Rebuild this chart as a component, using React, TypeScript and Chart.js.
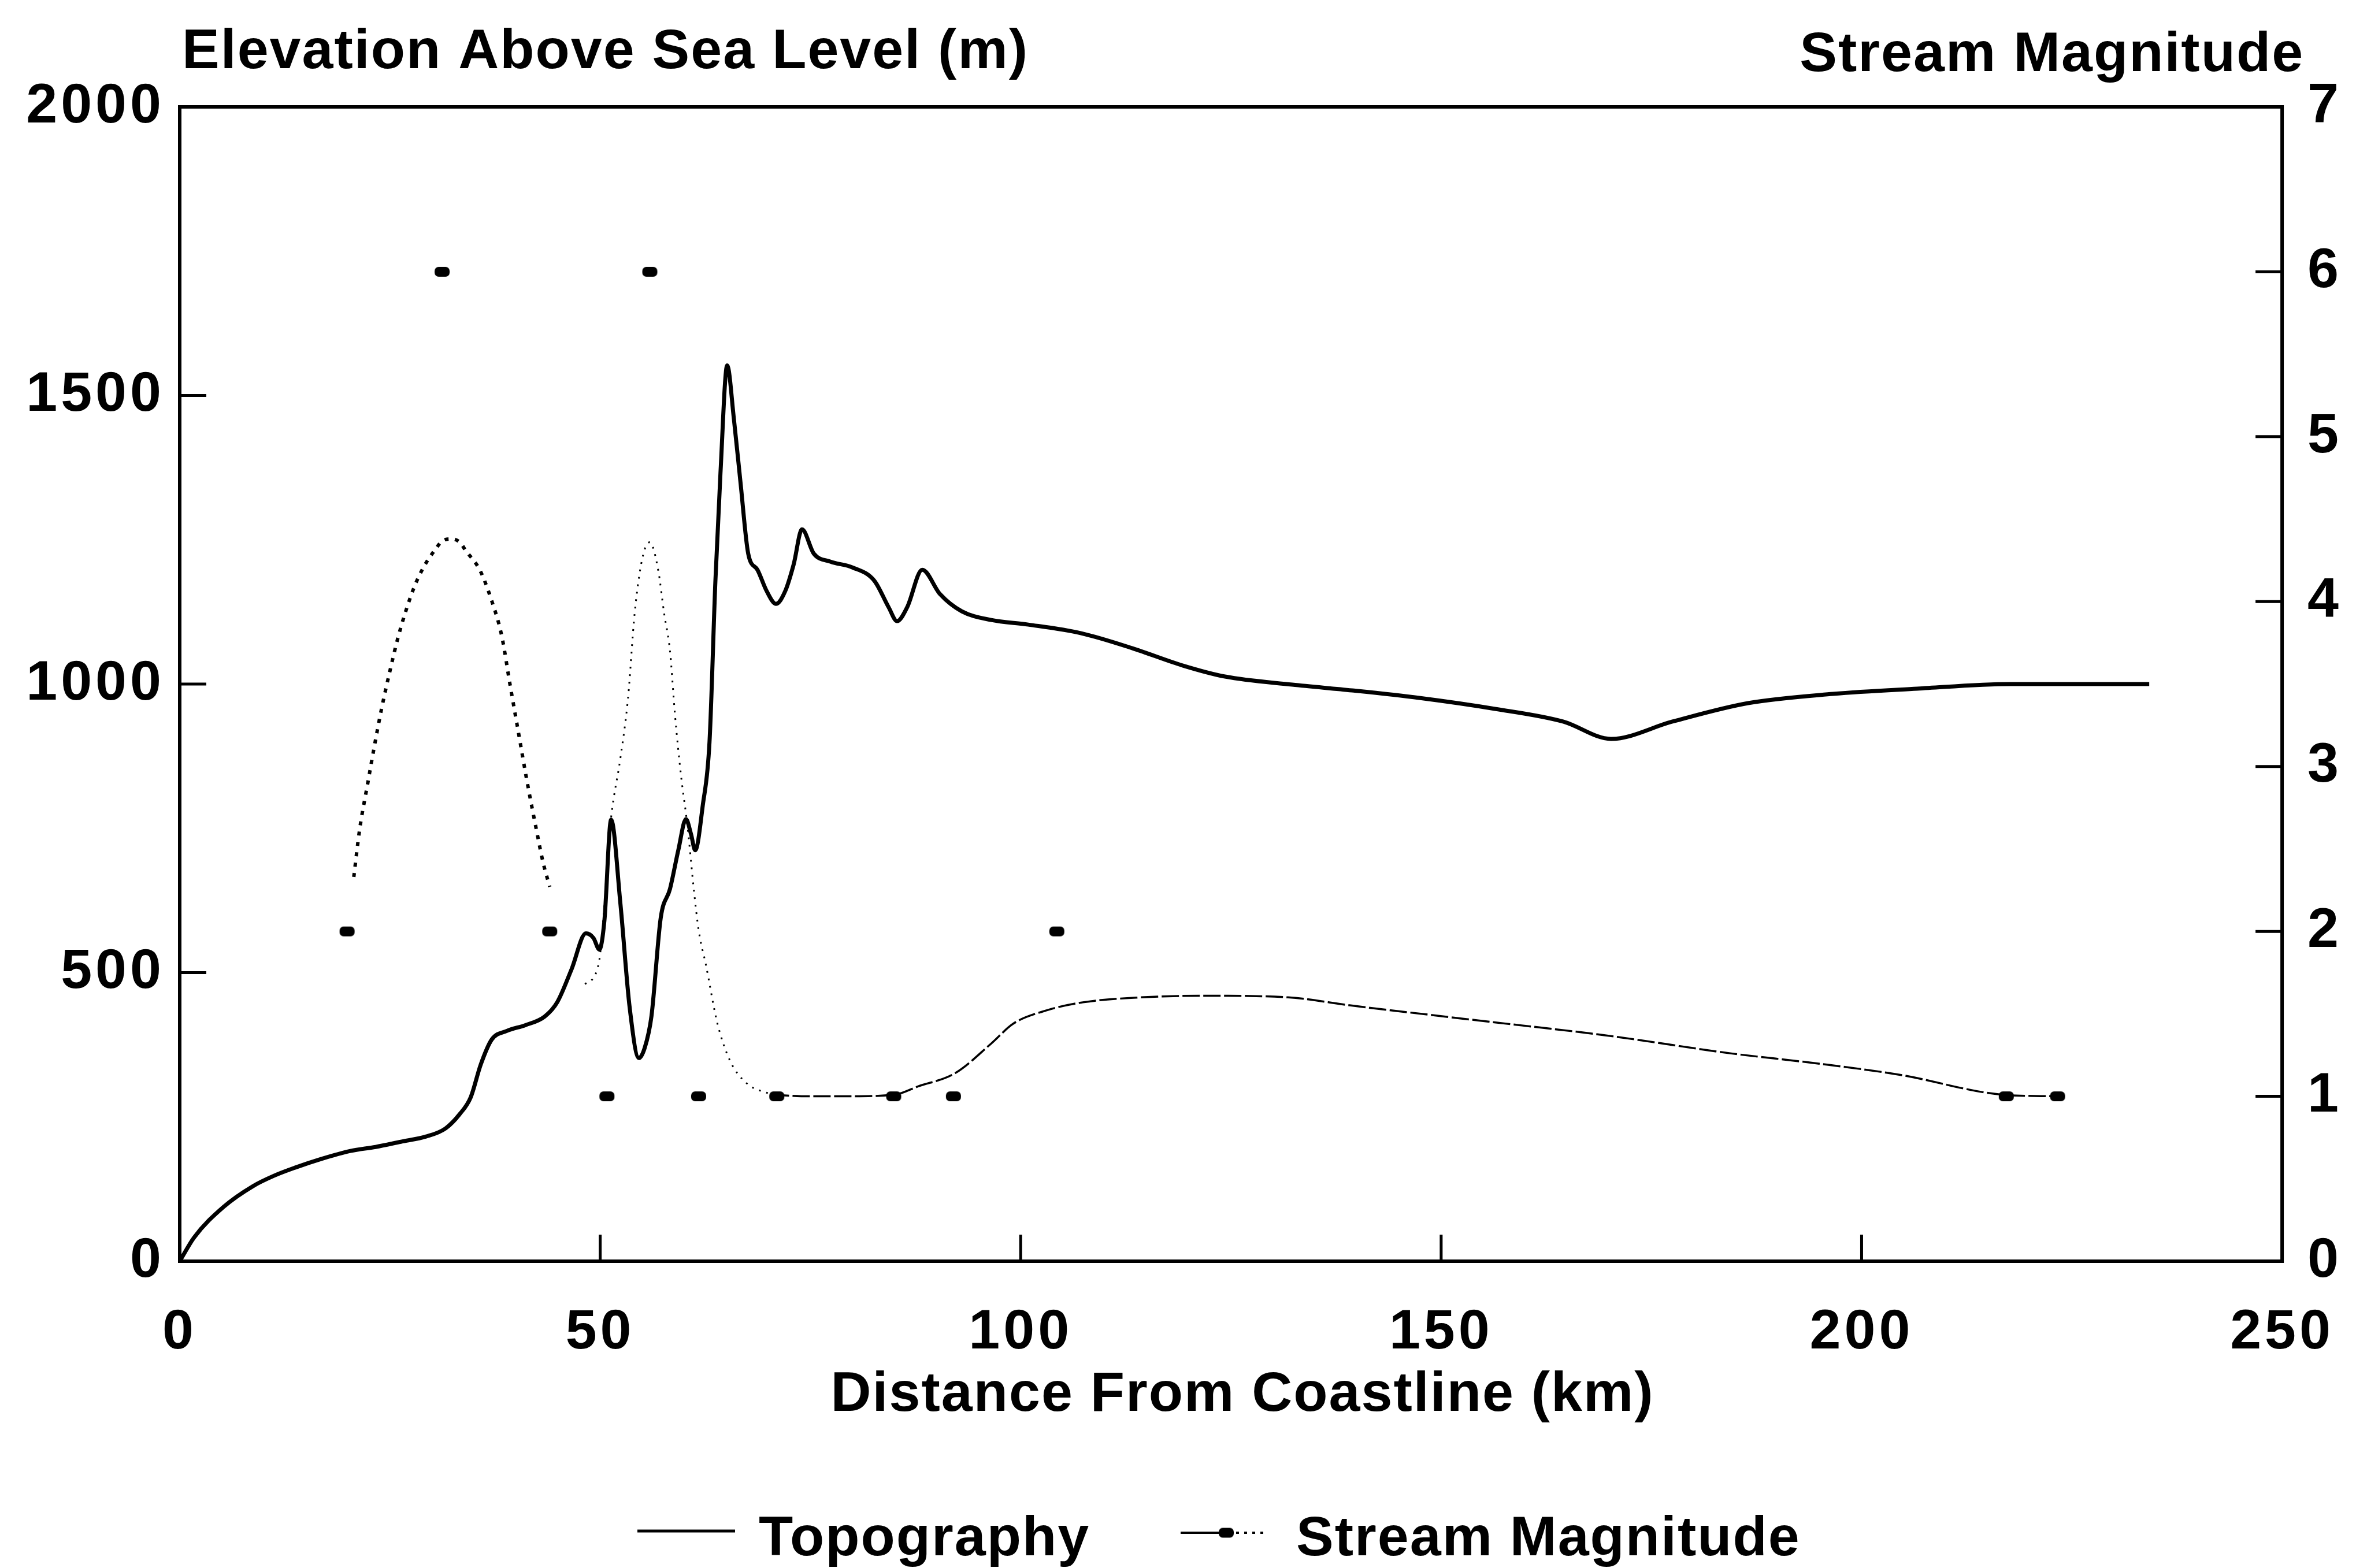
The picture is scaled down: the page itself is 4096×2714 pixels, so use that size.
import React, { useEffect, useRef } from 'react';
import { Chart, registerables } from 'chart.js';

Chart.register(...registerables);

// ---------------- data ----------------
const xTicks = [0, 50, 100, 150, 200, 250];
const elevationTicks = [0, 500, 1000, 1500, 2000];
const magnitudeTicks = [0, 1, 2, 3, 4, 5, 6, 7];

const xTitle = 'Distance From Coastline (km)';
const yTitle = 'Elevation Above Sea Level (m)';
const y1Title = 'Stream Magnitude';

// Topography (km, m)
const topoKm = [
  0, 1.7, 5.2, 8.7, 11.2, 13.7, 16.8, 20.3, 23.3, 26.3, 29.3, 31.6, 33.3, 34.6, 35.8, 37.1,
  38.9, 41.1, 43.4, 44.9, 46.6, 48.3, 49.2, 49.9, 50.5, 51.3, 52.4, 53.5, 54.6, 55.3, 56.1,
  57.2, 58.3, 59.3, 60.2, 60.8, 61.3, 62.2, 63.0, 63.7, 64.3, 65.1, 65.9, 66.7, 67.6, 68.7,
  69.8, 70.9, 72.0, 73.0, 74.0, 75.4, 77.4, 80.0, 82.6, 84.3, 85.3, 86.5, 88.3, 90.4, 93.0,
  96.5, 100.9, 107.2, 113.3, 119.3, 124.3, 132.3, 139.4, 147.4, 156.4, 164.5, 170.2, 177.5,
  186.5, 196.6, 206.6, 217.7, 234.2,
];
const topoElev = [
  0, 41, 94, 130, 148, 162, 177, 191, 198, 207, 216, 230, 255, 284, 341, 384,
  399, 409, 424, 449, 506, 568, 560, 540, 590, 765, 620, 440, 352, 370, 425,
  595, 645, 713, 766, 740, 712, 790, 900, 1179, 1365, 1552, 1459, 1347, 1226, 1198,
  1161, 1139, 1161, 1207, 1268, 1226, 1212, 1202, 1179, 1133, 1109, 1133, 1198, 1156, 1126,
  1111, 1103, 1088, 1062, 1032, 1013, 999, 989, 976, 957, 935, 905, 935,
  967, 983, 992, 1000, 1000,
];

// Stream magnitude observations (km, magnitude)
const streamKm = [19.9, 31.2, 44.0, 50.8, 55.9, 61.7, 71.0, 84.9, 92.0, 104.3, 217.2, 223.3];
const streamMag = [2, 6, 2, 1, 6, 1, 1, 1, 1, 2, 1, 1];

// Stream magnitude trend curves
const curveAKm = [20.7, 21.4, 22.4, 23.1, 24.0, 25.0, 26.0, 27.6, 28.8, 30.3, 31.3, 32.3, 33.3, 34.0, 35.7, 37.0, 38.3, 39.3, 40.3, 41.3, 42.4, 43.2, 44.0];
const curveAMag = [2.33, 2.62, 2.91, 3.11, 3.35, 3.58, 3.79, 4.05, 4.19, 4.31, 4.37, 4.38, 4.36, 4.31, 4.19, 4.02, 3.79, 3.49, 3.2, 2.91, 2.62, 2.42, 2.27];

const curveBKm = [48.2, 49.8, 51.3, 52.4, 53.3, 54.1, 55.0, 55.9, 56.9, 57.6, 58.3, 58.9, 59.6, 60.4, 61.1, 61.7, 62.6, 63.9, 65.4, 67.4, 70.4];
const curveBMag = [1.68, 1.8, 2.69, 3.05, 3.41, 3.93, 4.26, 4.36, 4.19, 3.93, 3.7, 3.31, 2.95, 2.63, 2.27, 2.01, 1.79, 1.45, 1.22, 1.08, 1.01];

const curveCKm = [70.4, 74.8, 79.1, 85.0, 87.8, 92.2, 96.5, 99.1, 103.0, 107.4, 114.3, 122.0, 131.8, 139.4, 154.4, 169.5, 184.5, 194.6, 204.6, 216.7, 223.2];
const curveCMag = [1.01, 1.0, 1.0, 1.01, 1.06, 1.14, 1.32, 1.44, 1.52, 1.57, 1.6, 1.61, 1.6, 1.55, 1.46, 1.37, 1.26, 1.2, 1.13, 1.01, 1.0];

// ---------------- styling ----------------
const W = 4096;
const H = 2714;
const FONT = '"Liberation Sans", Arimo, Arial, Helvetica, sans-serif';
const FS = 97;

const pts = (xs: number[], ys: number[]) => xs.map((x, i) => ({ x, y: ys[i] }));

function makeMarker(): HTMLCanvasElement {
  const c = document.createElement('canvas');
  c.width = 28;
  c.height = 19;
  const g = c.getContext('2d')!;
  g.fillStyle = '#000';
  g.beginPath();
  (g as any).roundRect(1, 1, 26, 17, 7);
  g.fill();
  return c;
}

const decorations = {
  id: 'decorations',
  beforeDraw(chart: any) {
    (chart.ctx as any).letterSpacing = '6px';
  },
  afterDraw(chart: any) {
    const ctx = chart.ctx as CanvasRenderingContext2D;
    const { left, right, top, bottom } = chart.chartArea;
    const xs = chart.scales.x;
    const ys = chart.scales.y;
    const y1 = chart.scales.y1;
    const TL = 46;
    ctx.save();
    (ctx as any).letterSpacing = '2px';
    ctx.strokeStyle = '#000';
    ctx.fillStyle = '#000';
    ctx.lineCap = 'butt';
    ctx.lineWidth = 5;
    ctx.beginPath();
    xTicks.forEach((v) => {
      if (v > xs.min && v < xs.max) {
        const p = xs.getPixelForValue(v);
        ctx.moveTo(p, bottom);
        ctx.lineTo(p, bottom - TL);
      }
    });
    elevationTicks.forEach((v) => {
      if (v > ys.min && v < ys.max) {
        const p = ys.getPixelForValue(v);
        ctx.moveTo(left, p);
        ctx.lineTo(left + TL, p);
      }
    });
    magnitudeTicks.forEach((v) => {
      if (v > y1.min && v < y1.max) {
        const p = y1.getPixelForValue(v);
        ctx.moveTo(right, p);
        ctx.lineTo(right - TL, p);
      }
    });
    ctx.stroke();
    ctx.lineJoin = 'miter';
    ctx.lineWidth = 6;
    ctx.strokeRect(left, top, right - left, bottom - top);

    // axis titles
    ctx.font = `bold ${FS}px ${FONT}`;
    ctx.textBaseline = 'alphabetic';
    ctx.textAlign = 'left';
    ctx.fillText(chart.options.scales.y.title.text, left + 4, 118);
    ctx.textAlign = 'right';
    ctx.fillText(chart.options.scales.y1.title.text, right + 38, 123);
    ctx.textAlign = 'center';
    ctx.fillText(chart.options.scales.x.title.text, (left + right) / 2 + 20, 2442);

    // legend
    const ds = chart.data.datasets;
    const ly = 2650;
    const base = 2692;
    ctx.textAlign = 'left';
    ctx.lineWidth = 5;
    ctx.beginPath();
    ctx.moveTo(1103, ly);
    ctx.lineTo(1272, ly);
    ctx.stroke();
    ctx.fillText(ds[0].label, 1313, base);

    ctx.lineWidth = 4;
    ctx.beginPath();
    ctx.moveTo(2043, ly + 3);
    ctx.lineTo(2112, ly + 3);
    ctx.stroke();
    const mk = ds[1].pointStyle as HTMLCanvasElement;
    ctx.drawImage(mk, 2122 - mk.width / 2, ly + 3 - mk.height / 2);
    ctx.setLineDash([5, 9]);
    ctx.beginPath();
    ctx.moveTo(2139, ly + 3);
    ctx.lineTo(2195, ly + 3);
    ctx.stroke();
    ctx.setLineDash([]);
    ctx.fillText(ds[1].label, 2243, base);
    ctx.restore();
  },
};

export default function App() {
  const ref = useRef<HTMLCanvasElement | null>(null);

  useEffect(() => {
    document.body.style.margin = '0';
    document.body.style.overflow = 'hidden';
    const canvas = ref.current;
    if (!canvas) return;
    const marker = makeMarker();
    const tickFont = { family: FONT, size: FS, weight: 'bold' as const };

    const chart = new Chart(canvas, {
      type: 'line',
      data: {
        datasets: [
          {
            label: 'Topography',
            data: pts(topoKm, topoElev),
            yAxisID: 'y',
            borderColor: '#000',
            borderWidth: 7,
            pointRadius: 0,
            cubicInterpolationMode: 'monotone',
            fill: false,
          },
          {
            label: 'Stream Magnitude',
            data: pts(streamKm, streamMag),
            yAxisID: 'y1',
            showLine: false,
            pointStyle: marker as any,
            pointRadius: 10,
            borderColor: '#000',
            backgroundColor: '#000',
          },
          {
            label: '',
            data: pts(curveAKm, curveAMag),
            yAxisID: 'y1',
            borderColor: '#000',
            borderWidth: 6,
            borderDash: [7, 11],
            pointRadius: 0,
            cubicInterpolationMode: 'monotone',
            fill: false,
          },
          {
            label: '',
            data: pts(curveBKm, curveBMag),
            yAxisID: 'y1',
            borderColor: '#000',
            borderWidth: 3,
            borderDash: [3, 10],
            pointRadius: 0,
            cubicInterpolationMode: 'monotone',
            fill: false,
          },
          {
            label: '',
            data: pts(curveCKm, curveCMag),
            yAxisID: 'y1',
            borderColor: '#000',
            borderWidth: 3.5,
            borderDash: [30, 6],
            pointRadius: 0,
            cubicInterpolationMode: 'monotone',
            fill: false,
          },
        ],
      },
      options: {
        animation: false,
        responsive: false,
        maintainAspectRatio: false,
        devicePixelRatio: 1,
        events: [],
        layout: { padding: { top: 185, left: 0, right: 0, bottom: 0 } },
        plugins: {
          legend: { display: false },
          title: { display: false },
          tooltip: { enabled: false },
        },
        scales: {
          x: {
            type: 'linear',
            position: 'bottom',
            min: 0,
            max: 250,
            grid: { display: false, drawTicks: false },
            border: { display: false },
            afterBuildTicks: (s: any) => {
              s.ticks = xTicks.map((v) => ({ value: v }));
            },
            afterFit: (s: any) => {
              s.height = 531;
            },
            ticks: {
              font: tickFont,
              color: '#000',
              padding: 66,
              autoSkip: false,
              maxRotation: 0,
              callback: (v: any) => String(v),
            },
            title: { display: false, text: xTitle },
          },
          y: {
            type: 'linear',
            position: 'left',
            min: 0,
            max: 2000,
            grid: { display: false, drawTicks: false },
            border: { display: false },
            afterBuildTicks: (s: any) => {
              s.ticks = elevationTicks.map((v) => ({ value: v }));
            },
            afterFit: (s: any) => {
              s.width = 311;
            },
            ticks: {
              font: tickFont,
              color: '#000',
              padding: 26,
              callback: (v: any) => String(v),
            },
            title: { display: false, text: yTitle },
          },
          y1: {
            type: 'linear',
            position: 'right',
            min: 0,
            max: 7,
            grid: { display: false, drawTicks: false },
            border: { display: false },
            afterBuildTicks: (s: any) => {
              s.ticks = magnitudeTicks.map((v) => ({ value: v }));
            },
            afterFit: (s: any) => {
              s.width = 120;
            },
            ticks: {
              font: tickFont,
              color: '#000',
              padding: 44,
              callback: (v: any) => String(v),
            },
            title: { display: false, text: y1Title },
          },
        },
      } as any,
      plugins: [decorations],
    });
    return () => chart.destroy();
  }, []);

  return (
    <div style={{ width: W, height: H, background: '#fff' }}>
      <canvas ref={ref} width={W} height={H} style={{ display: 'block', width: W, height: H }} />
    </div>
  );
}
